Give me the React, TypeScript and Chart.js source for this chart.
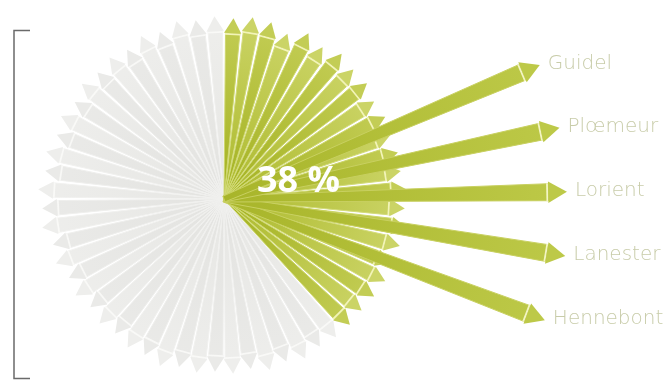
import { useEffect, useRef } from 'react';
import { Chart, registerables } from 'chart.js';
Chart.register(...registerables);

// ---- data ----
const sharePercent = 38;
const centerLabel = '38 %';
// arrow lengths of the green (share) part, clockwise from 12 o'clock
const greenLengths = [181, 184, 183, 177, 186, 181, 187, 183, 184, 179, 181, 178, 180, 179, 183, 181, 185, 182, 179, 181, 179, 177, 178];
// arrow lengths of the grey (rest) part, clockwise
const greyLengths = [178, 176, 179, 174, 177, 172, 175, 173, 176, 174, 179, 175, 177, 173, 176, 172, 177, 174, 180, 177, 184, 182, 186, 181, 184, 179, 183, 178, 183, 179, 182, 178, 183, 179, 184, 181, 183];
const towns = ['Guidel', 'Plœmeur', 'Lorient', 'Lanester', 'Hennebont'];
const townAngles = [-23, -12, -1.2, 9.5, 20.7];
const townLengths = [343, 343, 343, 346, 343];

type Style = { inner: string; outer: string; edge: string; bar: string; halfWidth: number; innerHalf: number; head: number };

const rad = (d: number) => (d * Math.PI) / 180;

// shaft: tapered polygon from the centre to the base of the head
function makeShaft(angleDeg: number, len: number, s: Style) {
  const a = rad(angleDeg);
  const base = len - 1.5 * s.head;
  const ux = Math.cos(a), uy = Math.sin(a);
  const nx = -uy, ny = ux;
  const p = (r: number, off: number) => ({ x: r * ux + off * nx, y: r * uy + off * ny });
  const tip = p(len, 0);
  return {
    type: 'scatter' as const,
    showLine: true,
    data: [p(0, -s.innerHalf), p(base, -s.halfWidth), p(base, s.halfWidth), p(0, s.innerHalf), p(0, -s.innerHalf)],
    fill: 'shape',
    borderWidth: 1,
    borderColor: s.edge,
    backgroundColor: (c: any) => {
      const ch = c.chart;
      const xs = ch.scales?.x, ys = ch.scales?.y;
      if (!xs || !ys || !ch.chartArea) return s.outer;
      const g = ch.ctx.createLinearGradient(xs.getPixelForValue(0), ys.getPixelForValue(0), xs.getPixelForValue(tip.x), ys.getPixelForValue(tip.y));
      g.addColorStop(0, s.inner);
      g.addColorStop(1, s.outer);
      return g;
    },
    pointRadius: 0,
    clip: false,
  };
}

// heads: one point dataset of triangles
function makeHeads(angles: number[], lens: number[], styles: Style[]) {
  return {
    type: 'scatter' as const,
    data: angles.map((ang, i) => ({ x: (lens[i] - styles[i].head) * Math.cos(rad(ang)), y: (lens[i] - styles[i].head) * Math.sin(rad(ang)) })),
    pointStyle: 'triangle',
    pointRadius: styles.map((s) => s.head),
    pointRotation: angles.map((a) => a + 90),
    pointBackgroundColor: styles.map((s) => s.outer),
    pointBorderWidth: 0,
    clip: false,
  };
}

// crossbars at the base of each head
function makeBars(angles: number[], lens: number[], styles: Style[]) {
  return {
    type: 'scatter' as const,
    data: angles.map((ang, i) => {
      const r = lens[i] - 1.5 * styles[i].head - 1;
      return { x: r * Math.cos(rad(ang)), y: r * Math.sin(rad(ang)) };
    }),
    pointStyle: 'line',
    pointRadius: styles.map((s) => s.halfWidth + 0.5),
    pointRotation: angles.map((a) => a + 90),
    pointBorderColor: styles.map((s) => s.bar),
    pointBorderWidth: 1.8,
    clip: false,
  };
}

const decor = {
  id: 'decor',
  afterDatasetsDraw(chart: any) {
    const { ctx } = chart;
    const xs = chart.scales.x, ys = chart.scales.y;
    ctx.save();
    // center label
    ctx.fillStyle = '#ffffff';
    ctx.font = 'bold 36px "Open Sans"';
    ctx.textAlign = 'left';
    ctx.textBaseline = 'middle';
    ctx.fillText(centerLabel, xs.getPixelForValue(0) + 33, ys.getPixelForValue(0) - 17);
    // town labels, right of each arrow tip
    ctx.fillStyle = '#c8cca9';
    ctx.font = '200 20px "DejaVu Sans"';
    towns.forEach((t, i) => {
      const a = rad(townAngles[i]);
      const tx = xs.getPixelForValue(townLengths[i] * Math.cos(a));
      const ty = ys.getPixelForValue(townLengths[i] * Math.sin(a));
      ctx.fillText(t, tx + 8, ty - 1);
    });
    // bracket
    ctx.strokeStyle = '#6a6a6a';
    ctx.lineWidth = 1.5;
    ctx.beginPath();
    ctx.moveTo(30, 30.5);
    ctx.lineTo(14, 30.5);
    ctx.lineTo(14, 378.5);
    ctx.lineTo(30, 378.5);
    ctx.stroke();
    ctx.restore();
  },
};

export default function App() {
  const ref = useRef<HTMLCanvasElement>(null);
  useEffect(() => {
    const total = greenLengths.length + greyLengths.length;
    const step = 360 / total;
    const greenCount = Math.round((sharePercent / 100) * total);
    const townStyle: Style = { inner: '#a8b52a', outer: '#bdc948', edge: '#c8d060', bar: '#f3f5c4', halfWidth: 8.5, innerHalf: 3, head: 12.5 };
    const greenA: Style = { inner: '#a3b120', outer: '#c3cd55', edge: '#cdd66c', bar: '#f2f4b8', halfWidth: 7.2, innerHalf: 0, head: 10 };
    const greenB: Style = { inner: '#acb92c', outer: '#cbd466', edge: '#d3db7a', bar: '#f2f4b8', halfWidth: 7.2, innerHalf: 0, head: 10 };
    const greyA: Style = { inner: '#e3e3e0', outer: '#eaeae8', edge: '#efefed', bar: '#f8f8f6', halfWidth: 7.2, innerHalf: 0, head: 10 };
    const greyB: Style = { inner: '#e6e6e3', outer: '#eeeeec', edge: '#f1f1ef', bar: '#f9f9f7', halfWidth: 7.2, innerHalf: 0, head: 10 };

    const all = [...greenLengths, ...greyLengths];
    const fanAngles = all.map((_, i) => -90 + (i + 0.5) * step);
    const fanStyles = all.map((_, i) => (i < greenCount ? (i % 2 ? greenB : greenA) : i % 2 ? greyB : greyA));
    const townStyles = towns.map(() => townStyle);

    const datasets: any[] = [];
    // top-most first
    datasets.push(makeHeads(townAngles, townLengths, townStyles));
    datasets.push(makeBars(townAngles, townLengths, townStyles));
    towns.forEach((_, i) => datasets.push(makeShaft(townAngles[i], townLengths[i], townStyle)));
    datasets.push(makeHeads(fanAngles, all, fanStyles));
    datasets.push(makeBars(fanAngles, all, fanStyles));
    all.forEach((len, i) => { if (i < greenCount) datasets.push(makeShaft(fanAngles[i], len, fanStyles[i])); });
    all.forEach((len, i) => { if (i >= greenCount) datasets.push(makeShaft(fanAngles[i], len, fanStyles[i])); });

    const chart = new Chart(ref.current!, {
      type: 'scatter',
      data: { datasets },
      options: {
        animation: false,
        responsive: false,
        devicePixelRatio: 1,
        events: [],
        layout: { padding: 0, autoPadding: false },
        plugins: { legend: { display: false }, tooltip: { enabled: false } },
        scales: {
          x: { type: 'linear', display: false, min: -224, max: 444 },
          y: { type: 'linear', display: false, min: -199, max: 183, reverse: true },
        },
      },
      plugins: [decor],
    } as any);
    return () => chart.destroy();
  }, []);
  return (
    <div style={{ position: 'fixed', left: 0, top: 0, width: 668, height: 382, background: '#ffffff' }}>
      <canvas ref={ref} width={668} height={382} style={{ display: 'block' }} />
    </div>
  );
}
